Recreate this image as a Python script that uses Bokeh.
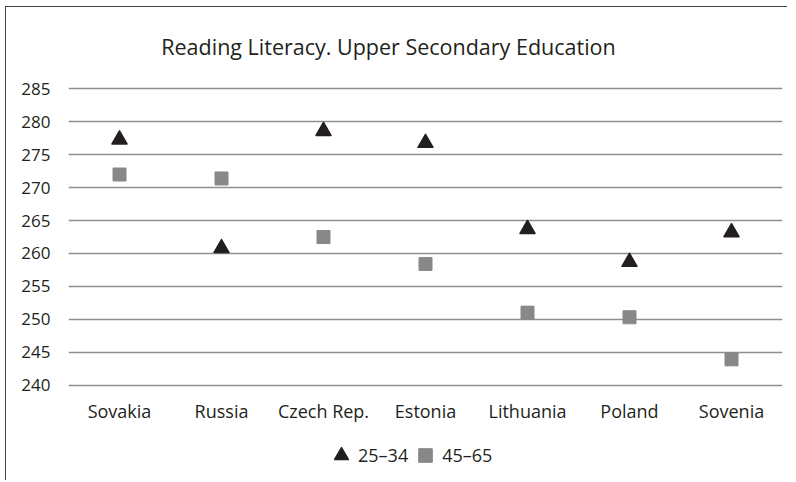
from bokeh.plotting import figure
from bokeh.models import Range1d, FixedTicker, Legend, LegendItem, Label
from bokeh.core.properties import value
from bokeh.embed import file_html
from bokeh.resources import INLINE

countries = ["Sovakia", "Russia", "Czech Rep.", "Estonia", "Lithuania", "Poland", "Sovenia"]
age_25_34 = [277.3, 260.8, 278.6, 276.8, 263.7, 258.7, 263.2]
age_45_65 = [272.0, 271.4, 262.5, 258.4, 251.0, 250.3, 243.9]
y_ticks = [240, 245, 250, 255, 260, 265, 270, 275, 280, 285]
series_names = ["25–34", "45–65"]
title_text = "Reading Literacy. Upper Secondary Education"

FONT = "Open Sans"
TEXT = "#231f20"
GRAY = "#888888"

# frame fills the canvas above/below the gridded band so legend/title are not clipped
p = figure(x_range=countries, y_range=Range1d(225.33, 297.39), width=782, height=474,
           output_backend="svg", toolbar_location=None,
           min_border_left=62, min_border_right=6, min_border_top=0, min_border_bottom=0)
p.outline_line_color = None
p.xgrid.grid_line_color = None
p.ygrid.grid_line_color = "#8f8f8f"
p.ygrid.grid_line_width = 1.3
p.yaxis.ticker = FixedTicker(ticks=y_ticks)
p.xaxis.visible = False
ya = p.yaxis[0]
ya.axis_line_color = None
ya.major_tick_line_color = None
ya.minor_tick_line_color = None
ya.major_tick_out = 0
ya.major_tick_in = 0
ya.major_label_text_font = FONT
ya.major_label_text_font_size = "17px"
ya.major_label_text_color = TEXT
ya.major_label_standoff = 18

# category labels under the lowest gridline
p.text(x=countries, y=[y_ticks[0]] * len(countries), text=countries, y_offset=26,
       text_align="center", text_baseline="middle", text_font=value(FONT),
       text_font_size="18px", text_color=TEXT)

r1 = p.scatter(countries, age_25_34, marker="triangle", size=15, fill_color=TEXT,
               line_color=TEXT, line_width=1.5, line_join="round")
r2 = p.scatter(countries, age_45_65, marker="square", size=13, fill_color=GRAY,
               line_color=GRAY, line_width=1)

title = Label(x=3.137, y=291.4, text=title_text, text_align="center",
              text_baseline="middle", text_font=FONT, text_font_size="21.5px",
              text_color=TEXT)
p.add_layout(title)

legend = Legend(items=[LegendItem(label=series_names[0], renderers=[r1]),
                       LegendItem(label=series_names[1], renderers=[r2])],
                orientation="horizontal", location=(256, 6),
                glyph_width=34, glyph_height=40, label_standoff=-7, spacing=0,
                padding=0, margin=0, border_line_color=None, background_fill_alpha=0,
                label_text_font=FONT, label_text_font_size="18px", label_text_color=TEXT)
p.add_layout(legend, "center")

p.styles = {"margin-left": "5px", "margin-top": "6px",
            "border-left": "1.5px solid #444444", "border-top": "1.5px solid #444444"}

open("out.html", "w").write(file_html(p, INLINE))
